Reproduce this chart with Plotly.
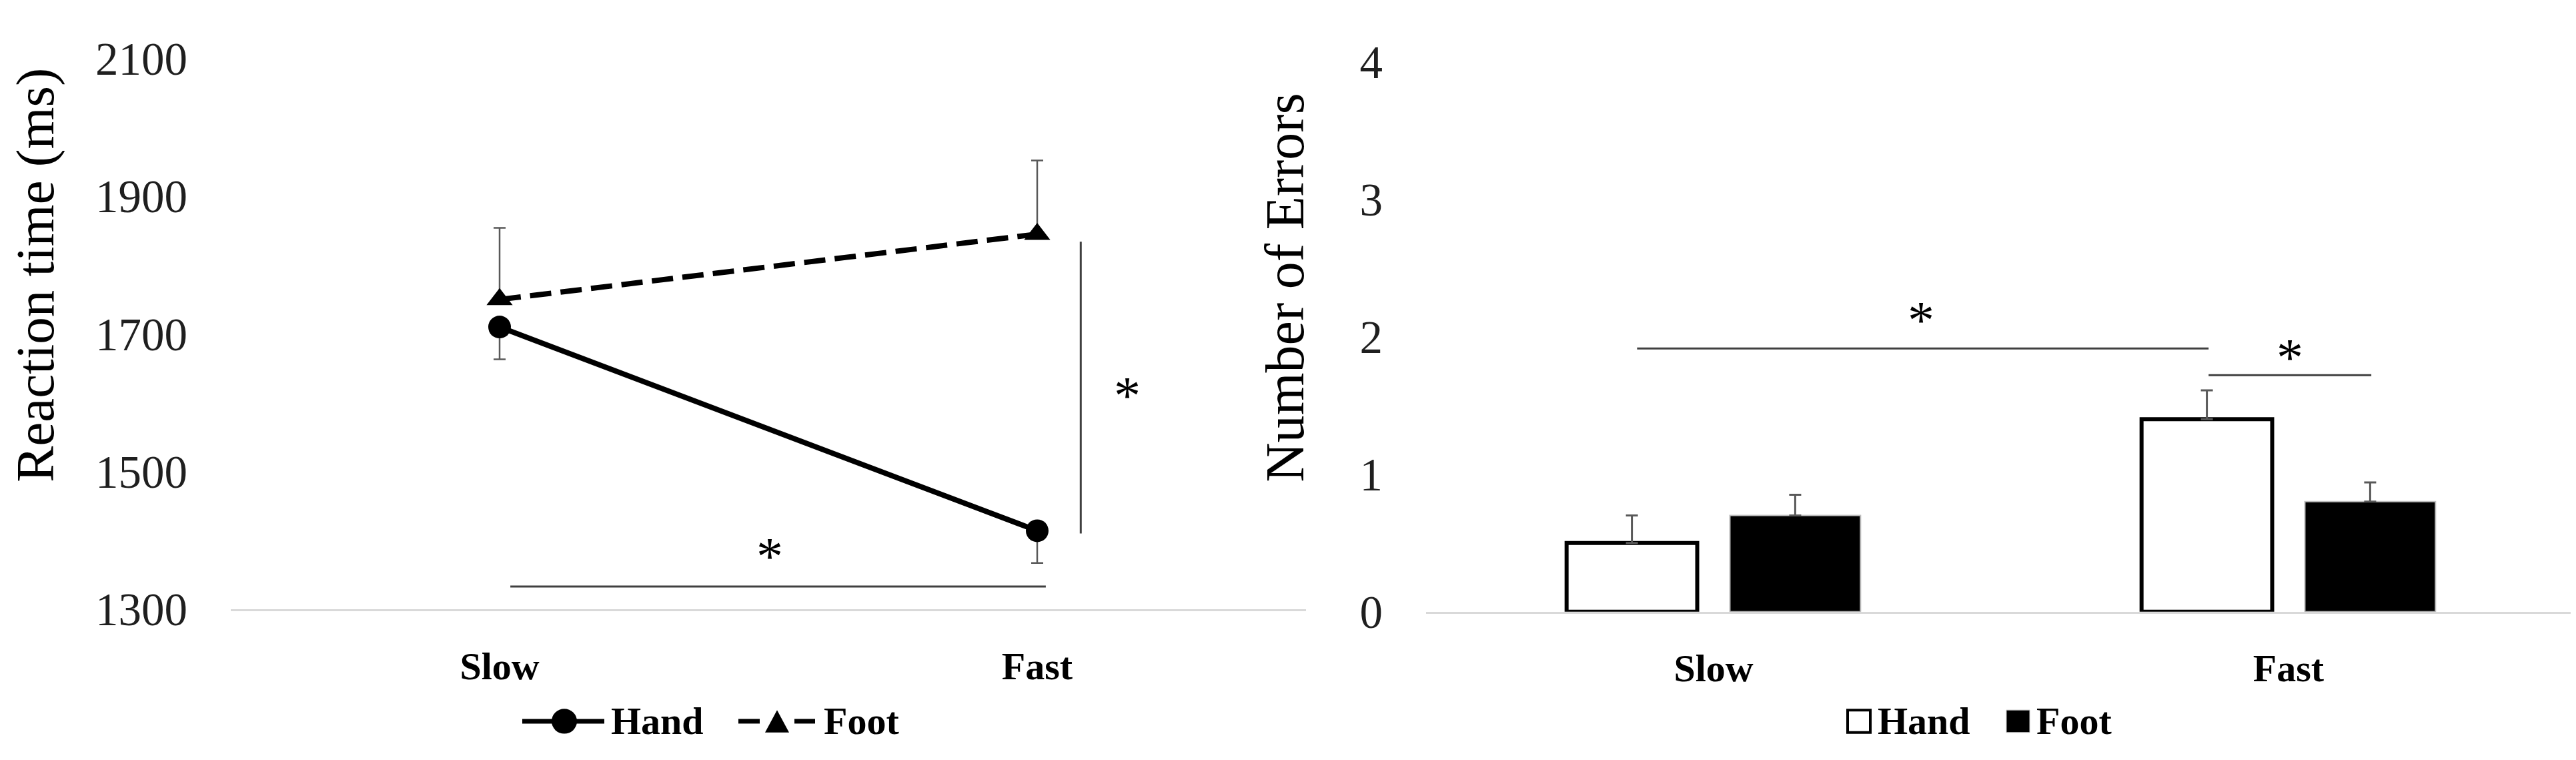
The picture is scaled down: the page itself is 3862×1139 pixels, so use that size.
import plotly.graph_objects as go

# speed conditions on the x axis
conditions = ["Slow", "Fast"]

# left panel: reaction time (ms)
rt_hand = [1710, 1414]
rt_foot = [1750, 1845]
rt_hand_err = [47, 47]    # drawn below the mean
rt_foot_err = [104, 107]  # drawn above the mean
rt_ticks = [1300, 1500, 1700, 1900, 2100]

# right panel: number of errors
err_hand = [0.5, 1.4]
err_foot = [0.7, 0.8]
err_hand_se = [0.2, 0.21]
err_foot_se = [0.15, 0.14]
err_ticks = [0, 1, 2, 3, 4]

# significance brackets: (x0, x1, y0, y1) in category index / data units
rt_sig_lines = [(0.02, 1.016, 1333, 1333), (1.081, 1.081, 1410, 1834)]
rt_sig_stars = [(0.502, 1391), (1.167, 1625)]
err_sig_lines = [(-0.133, 0.861, 1.915, 1.915), (0.861, 1.144, 1.72, 1.72)]
err_sig_stars = [(0.361, 2.19), (1.002, 1.92)]

W, H = 3862, 1139
SERIF = "Liberation Serif, Times New Roman, serif"
ERR_COLOR = "#595959"


def px(x):
    return x / W


def py(y):
    return 1 - y / H


fig = go.Figure()

# ---- left panel: lines
fig.add_trace(go.Scatter(
    x=conditions, y=rt_hand, mode="lines+markers", name="Hand",
    line=dict(color="black", width=8),
    marker=dict(symbol="circle", size=34, color="black"),
    error_y=dict(type="data", symmetric=False, array=[0, 0], arrayminus=rt_hand_err,
                 color=ERR_COLOR, thickness=2.5, width=9),
    xaxis="x", yaxis="y", showlegend=False))
fig.add_trace(go.Scatter(
    x=conditions, y=rt_foot, mode="lines+markers", name="Foot",
    line=dict(color="black", width=8, dash="32px,14px"),
    marker=dict(symbol="triangle-up", size=34, color="black"),
    error_y=dict(type="data", symmetric=False, array=rt_foot_err, arrayminus=[0, 0],
                 color=ERR_COLOR, thickness=2.5, width=9),
    xaxis="x", yaxis="y", showlegend=False))

# ---- right panel: bars
fig.add_trace(go.Bar(
    x=conditions, y=err_hand, name="Hand",
    marker=dict(color="white", line=dict(color="black", width=6)),
    error_y=dict(type="data", symmetric=False, array=err_hand_se, arrayminus=[0, 0],
                 color=ERR_COLOR, thickness=3, width=9),
    xaxis="x2", yaxis="y2", showlegend=False))
fig.add_trace(go.Bar(
    x=conditions, y=err_foot, name="Foot",
    marker=dict(color="black", line=dict(color="#bfbfbf", width=2)),
    error_y=dict(type="data", symmetric=False, array=err_foot_se, arrayminus=[0, 0],
                 color=ERR_COLOR, thickness=3, width=9),
    xaxis="x2", yaxis="y2", showlegend=False))

xcommon = dict(type="category", range=[-0.5, 1.5], showgrid=False, zeroline=False,
               showline=True, linecolor="#d9d9d9", linewidth=3, ticks="",
               tickfont=dict(family=SERIF, size=58, color="black", weight="bold"),
               ticklabelstandoff=32)
ycommon = dict(showgrid=False, zeroline=False, showline=False, ticks="",
               tickfont=dict(family=SERIF, size=69, color="#1f1f1f"),
               ticklabelstandoff=64)

shapes = []
annotations = []

for x0, x1, y0, y1 in rt_sig_lines:
    shapes.append(dict(type="line", xref="x", yref="y", x0=x0, x1=x1, y0=y0, y1=y1,
                       line=dict(color="#404040", width=3)))
for x0, x1, y0, y1 in err_sig_lines:
    shapes.append(dict(type="line", xref="x2", yref="y2", x0=x0, x1=x1, y0=y0, y1=y1,
                       line=dict(color="#404040", width=3)))
for x, y in rt_sig_stars:
    annotations.append(dict(x=x, y=y, xref="x", yref="y", text="*", showarrow=False,
                            xanchor="center", yanchor="middle",
                            font=dict(family=SERIF, size=80, color="black"), yshift=-15))
for x, y in err_sig_stars:
    annotations.append(dict(x=x, y=y, xref="x2", yref="y2", text="*", showarrow=False,
                            xanchor="center", yanchor="middle",
                            font=dict(family=SERIF, size=80, color="black"), yshift=-15))

# y axis titles
annotations.append(dict(x=px(45), y=py(394), xref="paper", yref="paper",
                        text="Reaction time (ms)", textangle=-90, showarrow=False,
                        xanchor="center", yanchor="middle",
                        font=dict(family=SERIF, size=81, color="black")))
annotations.append(dict(x=px(1918), y=py(414), xref="paper", yref="paper",
                        text="Number of Errors", textangle=-90, showarrow=False,
                        xanchor="center", yanchor="middle",
                        font=dict(family=SERIF, size=82, color="black")))

# hand-made legends (plotly caps legend marker size)
legend_font = dict(family=SERIF, size=58, color="black", weight="bold")
ly = 1110
shapes += [
    dict(type="line", xref="paper", yref="paper", x0=px(775), x1=px(898), y0=py(ly), y1=py(ly),
         line=dict(color="black", width=7)),
    dict(type="circle", xref="paper", yref="paper", x0=px(819), x1=px(857),
         y0=py(ly + 20), y1=py(ly - 20), fillcolor="black", line=dict(color="black", width=0)),
    dict(type="line", xref="paper", yref="paper", x0=px(1099), x1=px(1131), y0=py(ly), y1=py(ly),
         line=dict(color="black", width=7)),
    dict(type="line", xref="paper", yref="paper", x0=px(1183), x1=px(1214), y0=py(ly), y1=py(ly),
         line=dict(color="black", width=7)),
    dict(type="path", xref="paper", yref="paper",
         path=f"M{px(1139)},{py(ly + 18)} L{px(1175)},{py(ly + 18)} L{px(1157)},{py(ly - 18)} Z",
         fillcolor="black", line=dict(color="black", width=0)),
    dict(type="rect", xref="paper", yref="paper", x0=px(2762), x1=px(2796),
         y0=py(ly + 18), y1=py(ly - 18), fillcolor="white", line=dict(color="black", width=4)),
    dict(type="rect", xref="paper", yref="paper", x0=px(3000), x1=px(3035),
         y0=py(ly + 18), y1=py(ly - 18), fillcolor="black", line=dict(color="#bfbfbf", width=1)),
]
for text, x in [("Hand", 906), ("Foot", 1225), ("Hand", 2805), ("Foot", 3043)]:
    annotations.append(dict(x=px(x), y=py(ly), xref="paper", yref="paper", text=text,
                            xanchor="left", yanchor="middle", showarrow=False, font=legend_font))

fig.update_layout(
    width=W, height=H,
    margin=dict(l=0, r=0, t=0, b=0),
    paper_bgcolor="white", plot_bgcolor="white",
    showlegend=False,
    barmode="group", bargap=0.432, bargroupgap=0.2,
    xaxis=dict(xcommon, domain=[px(338), px(1950)], anchor="y"),
    yaxis=dict(ycommon, domain=[py(930), py(46)], range=[1300, 2100], tickvals=rt_ticks, anchor="x"),
    xaxis2=dict(xcommon, domain=[px(2130), px(3854)], anchor="y2"),
    yaxis2=dict(ycommon, domain=[py(934), py(51)], range=[0, 4], tickvals=err_ticks, anchor="x2"),
    shapes=shapes,
    annotations=annotations,
)

fig.write_html("out.html")
